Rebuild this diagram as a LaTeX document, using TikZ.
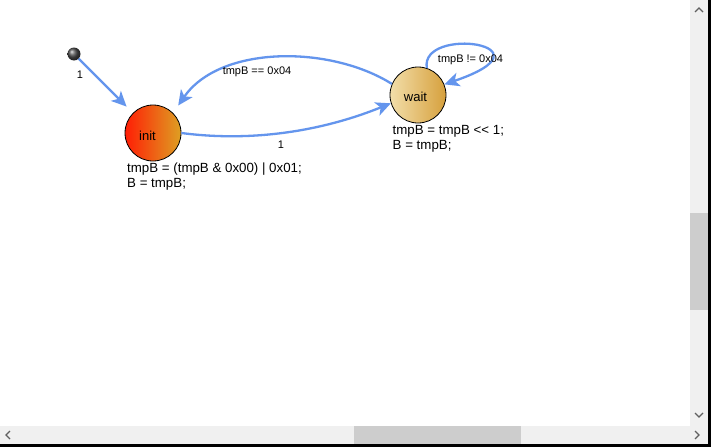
\documentclass[tikz,border=0pt]{standalone}
\usepackage{fontspec}
\setmainfont{Liberation Sans}
\usetikzlibrary{arrows.meta}
\definecolor{edgeblue}{RGB}{100,149,237}
\definecolor{sbtrack}{RGB}{240,240,240}
\definecolor{sbthumb}{RGB}{205,205,205}
\definecolor{sbarrow}{RGB}{96,96,96}
\definecolor{initL}{RGB}{255,30,5}
\definecolor{initR}{RGB}{222,160,35}
\definecolor{waitL}{RGB}{242,222,170}
\definecolor{waitR}{RGB}{214,160,60}
\tikzset{
  state/.style={circle, draw=black, line width=0.8pt, minimum size=56pt, inner sep=0pt},
  edge/.style={draw=edgeblue, line width=2.3pt, -{Stealth[length=15pt,width=14pt,inset=4pt]}},
  elabel/.style={font=\fontsize{11}{13}\selectfont, inner sep=0pt, anchor=base},
  slabel/.style={font=\fontsize{13}{15}\selectfont, inner sep=0pt, anchor=base},
  action/.style={font=\fontsize{13.3}{15}\selectfont, inner sep=0pt, anchor=base west},
  chevron/.style={draw=sbarrow, line width=1.2pt}
}
\begin{document}
\begin{tikzpicture}[x=1pt,y=-1pt]
\useasboundingbox (0,0) rectangle (711,447);
\fill[white] (0,0) rectangle (711,447);
% scrollbars
\fill[sbtrack] (690,0) rectangle (708,426);
\fill[sbthumb] (690,213) rectangle (708,310);
\fill[sbtrack] (0,426) rectangle (708,444);
\fill[sbthumb] (354,426) rectangle (521,444);
\fill[black] (708,0) rectangle (711,447);
\fill[black] (0,444) rectangle (711,447);
\draw[chevron] (695,12) -- (699,8) -- (703,12);
\draw[chevron] (695,413) -- (699,417) -- (703,413);
\draw[chevron] (10,431) -- (6,435) -- (10,439);
\draw[chevron] (695,431) -- (699,435) -- (695,439);
% states
\node[state, left color=initL, right color=initR] (init) at (153,133) {};
\node[state, left color=waitL, right color=waitR] (wait) at (418,95) {};
\node[slabel] (initname) at (147.5,140.5) {init};
\node[slabel] (waitname) at (415.5,101.5) {wait};
\node[circle, minimum size=13pt, inner sep=0pt, ball color=black!70] (start) at (74,54) {};
% actions
\node[action] (initact1) at (127,172.5) {tmpB = (tmpB \& 0x00) | 0x01;};
\node[action] (initact2) at (127,187) {B = tmpB;};
\node[action] (waitact1) at (392.5,134.5) {tmpB = tmpB {<}{<} 1;};
\node[action] (waitact2) at (392.5,149) {B = tmpB;};
% transitions
\draw[edge, shorten >=9pt] (start) -- (init);
\node[elabel] (l0) at (80,78) {1};
\draw[edge] (init.east) .. controls (250,142) and (320,132) .. (wait.197);
\node[elabel] (l1) at (281,148) {1};
\draw[edge, shorten >=9pt] (wait.157) .. controls (330,45) and (220,45) .. (init.45);
\node[elabel] (l2) at (257,74) {tmpB == 0x04};
\draw[edge] (wait.72) .. controls (420,25) and (560,45) .. (wait.22);
\node[elabel] (l3) at (470.5,62.7) {tmpB != 0x04};
\end{tikzpicture}
\end{document}
